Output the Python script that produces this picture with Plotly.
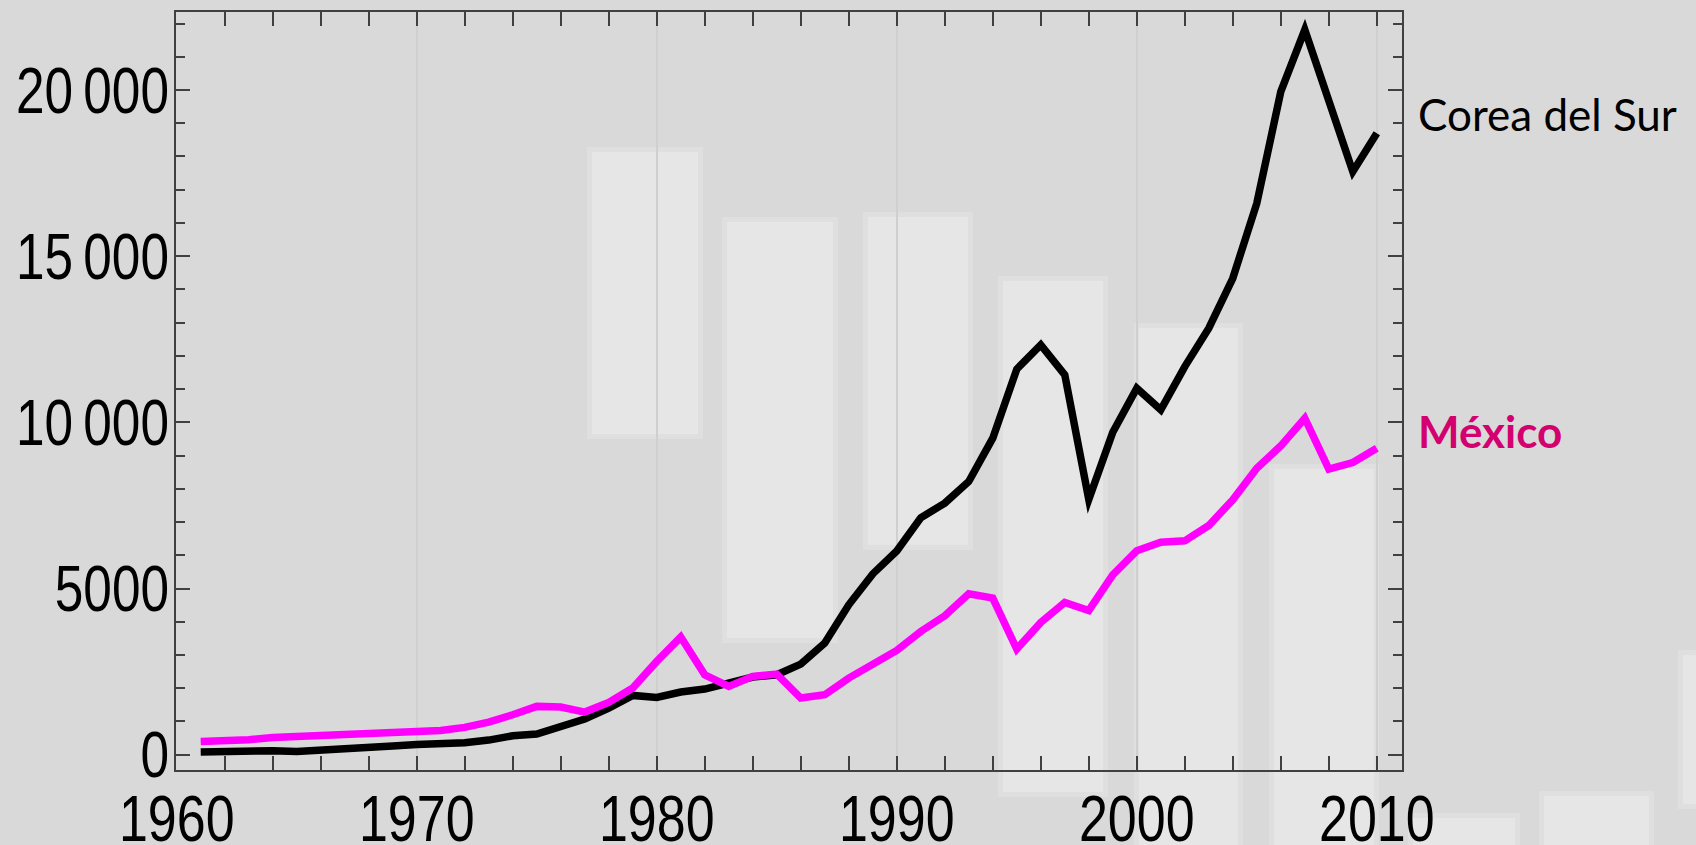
import plotly.graph_objects as go

# ---------------- data ----------------
years = list(range(1961, 2011))
korea = [81, 100, 140, 120, 100, 130, 160, 210, 260, 310, 330, 360, 440,
         571, 620, 832, 1073, 1404, 1784, 1724, 1885, 1975, 2175, 2336, 2406, 2727, 3359,
         4511, 5440, 6130, 7130, 7569, 8221, 9524, 11600, 12331, 11429, 7680,
         9700, 11028, 10376, 11679, 12832, 14336, 16592, 19950, 21810, 19650, 17544, 18697]
mexico = [395, 411, 451, 520, 550, 580, 610, 662, 700, 700, 731, 822, 983,
          1203, 1454, 1434, 1283, 1574, 2005, 2807, 3539, 2406, 2055, 2356, 2426, 1704, 1804,
          2306, 2707, 3137, 3709, 4180, 4842, 4712, 3178, 3980, 4581, 4341,
          5413, 6135, 6396, 6436, 6897, 7669, 8622, 9293, 10125, 8592, 8792, 9223]
series_names = ["Corea del Sur", "México"]
y_tickvals = [0, 5000, 10000, 15000, 20000]
y_ticktext = ["0", "5000", "10\u2009000", "15\u2009000", "20\u2009000"]
x_tickvals = [1960, 1970, 1980, 1990, 2000, 2010]
x_ticktext = ["1960", "1970", "1980", "1990", "2000", "2010"]

# ---------------- layout constants ----------------
W, H = 1696, 845
ML, MR, MT, MB = 176, 294, 12, 75
PW, PH = W - ML - MR, H - MT - MB

BG = "#d9d9d9"
HALO = "#dfdfdf"
CORE = "#e6e6e6"
# decorative background panels (pixel boxes: x0, y0, x1, y1)
decor_boxes = [
    (592, 152, 698, 434),
    (727, 222, 833, 638),
    (868, 217, 968, 545),
    (1003, 281, 1103, 792),
    (1139, 328, 1238, 860),
    (1274, 469, 1374, 860),
    (1413, 818, 1515, 860),
    (1544, 796, 1649, 860),
    (1683, 655, 1710, 804),
]


def px_to_paper_x(px):
    return (px - ML) / PW


def px_to_paper_y(py):
    return (H - MB - py) / PH


shapes = []
for (x0, y0, x1, y1) in decor_boxes:
    for pad, col in ((5, HALO), (0, CORE)):
        shapes.append(dict(
            type="rect", xref="paper", yref="paper", layer="below",
            x0=px_to_paper_x(x0 - pad), x1=px_to_paper_x(x1 + pad),
            y0=px_to_paper_y(y1 + pad), y1=px_to_paper_y(y0 - pad),
            fillcolor=col, line=dict(width=0)))

fig = go.Figure()
fig.add_trace(go.Scatter(x=years, y=korea, mode="lines", name=series_names[0],
                         line=dict(color="#000000", width=7.5)))
fig.add_trace(go.Scatter(x=years, y=mexico, mode="lines", name=series_names[1],
                         line=dict(color="#ff00ff", width=7.5)))

tick_font = dict(family="Liberation Sans, Arial, sans-serif", size=65, color="#000000")

fig.update_layout(
    width=W, height=H,
    margin=dict(l=ML, r=MR, t=MT, b=MB, pad=0),
    paper_bgcolor=BG, plot_bgcolor="rgba(0,0,0,0)",
    showlegend=False,
    shapes=shapes,
    xaxis=dict(
        range=[1959.97, 2011.05], tickmode="array",
        tickvals=x_tickvals, ticktext=x_ticktext, automargin=False,
        ticks="inside", ticklen=14, tickwidth=2, tickcolor="#404040",
        showline=True, linecolor="#404040", linewidth=2, mirror="ticks",
        showgrid=True, gridcolor="#cfcfcf", gridwidth=1.5, zeroline=False,
        minor=dict(dtick=2, tick0=1960, ticks="inside", ticklen=14, tickwidth=2,
                   tickcolor="#404040", showgrid=False),
        tickfont=tick_font, ticklabelstandoff=-9,
    ),
    yaxis=dict(
        range=[-460, 22347], tickmode="array",
        tickvals=y_tickvals, ticktext=y_ticktext, automargin=False,
        ticks="inside", ticklen=14, tickwidth=2, tickcolor="#404040",
        showline=True, linecolor="#404040", linewidth=2, mirror="ticks",
        showgrid=False, zeroline=False,
        minor=dict(dtick=1000, tick0=0, ticks="inside", ticklen=9, tickwidth=2,
                   tickcolor="#404040", showgrid=False),
        tickfont=tick_font, ticklabelstandoff=-8,
    ),
    annotations=[
        dict(text=series_names[0], xref="paper", yref="paper",
             x=px_to_paper_x(1416), y=px_to_paper_y(114), xanchor="left", yanchor="middle",
             showarrow=False, font=dict(family="Lato", size=44, color="#000000")),
        dict(text="<b>" + series_names[1] + "</b>", xref="paper", yref="paper",
             x=px_to_paper_x(1416), y=px_to_paper_y(431), xanchor="left", yanchor="middle",
             showarrow=False, font=dict(family="Lato", size=44, color="#d30070")),
    ],
)

# page without body margin; sharp (mitred) line joins as in the reference;
# tick labels in the reference use a narrow face, so condense the installed sans
post = """
document.body.style.margin = '0';
document.body.style.overflow = 'hidden';
var gd = document.getElementById('{plot_id}');
gd.querySelectorAll('.scatterlayer .js-line').forEach(function(p){
  p.style.strokeLinejoin = 'miter';
  p.style.strokeMiterlimit = '10';
});
gd.querySelectorAll('.xtick text').forEach(function(t){
  var w = t.getComputedTextLength();
  t.setAttribute('textLength', (w * 0.8).toFixed(1));
  t.setAttribute('lengthAdjust', 'spacingAndGlyphs');
});
gd.querySelectorAll('.ytick text').forEach(function(t){
  var w = t.getComputedTextLength();
  t.setAttribute('textLength', (w * 0.79).toFixed(1));
  t.setAttribute('lengthAdjust', 'spacingAndGlyphs');
});
"""

fig.write_html("out.html", post_script=post, config={"displayModeBar": False})
